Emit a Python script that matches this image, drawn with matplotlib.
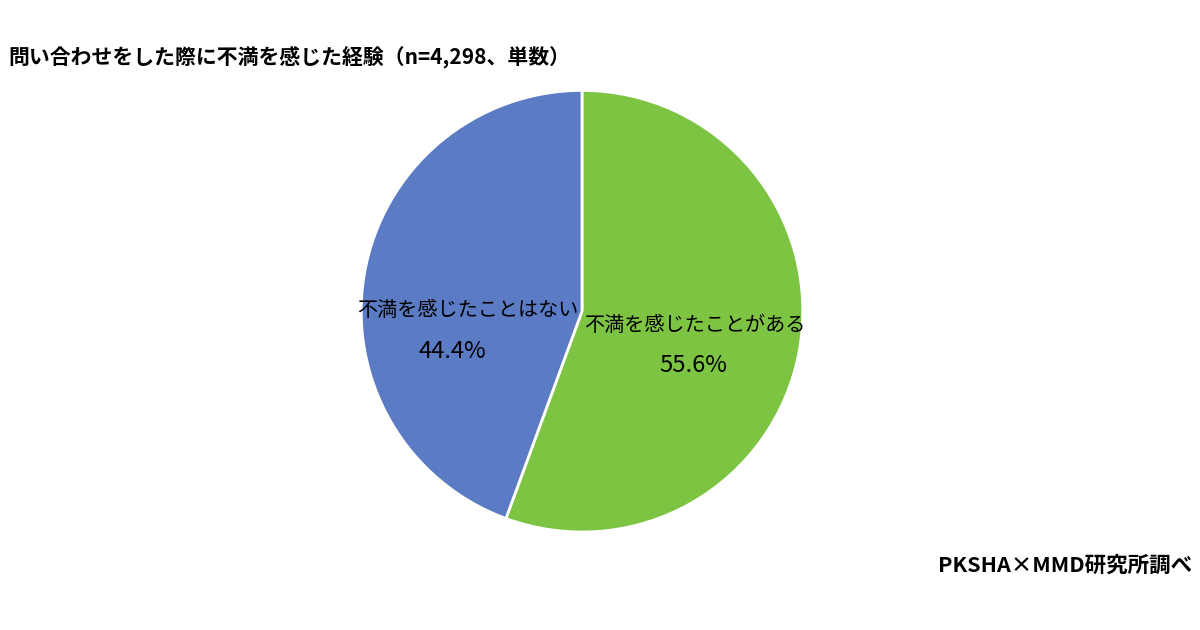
import matplotlib
matplotlib.use("Agg")
import matplotlib.pyplot as plt

plt.rcParams['font.family'] = ['Noto Sans CJK JP', 'DejaVu Sans']

labels = ["不満を感じたことがある", "不満を感じたことはない"]
values = [55.6, 44.4]
colors = ["#7DC443", "#5B7BC4"]
title = "問い合わせをした際に不満を感じた経験（n=4,298、単数）"
source = "PKSHA×MMD研究所調べ"

fig = plt.figure(figsize=(12, 6.3), dpi=100)
ax = fig.add_axes([0.485 - 0.184, 0.506 - 0.351, 0.368, 0.702])
ax.pie(values, colors=colors, startangle=90, counterclock=False,
       wedgeprops=dict(edgecolor="white", linewidth=2))
ax.set_aspect("equal")
ax.set_xlim(-1, 1); ax.set_ylim(-1, 1)

fig.text(695/1200, 1-325/630, labels[0], ha="center", va="center", fontsize=14.5)
fig.text(693/1200, 1-365/630, f"{values[0]}%", ha="center", va="center", fontsize=17)
fig.text(468/1200, 1-310/630, labels[1], ha="center", va="center", fontsize=14.5)
fig.text(452/1200, 1-352/630, f"{values[1]}%", ha="center", va="center", fontsize=17)

fig.text(8/1200, 1-58/630, title, ha="left", va="center", fontsize=15, fontweight="bold")
fig.text(1192/1200, 1-565/630, source, ha="right", va="center", fontsize=15.5, fontweight="bold")

fig.savefig("out.png", dpi=100, facecolor="white")
